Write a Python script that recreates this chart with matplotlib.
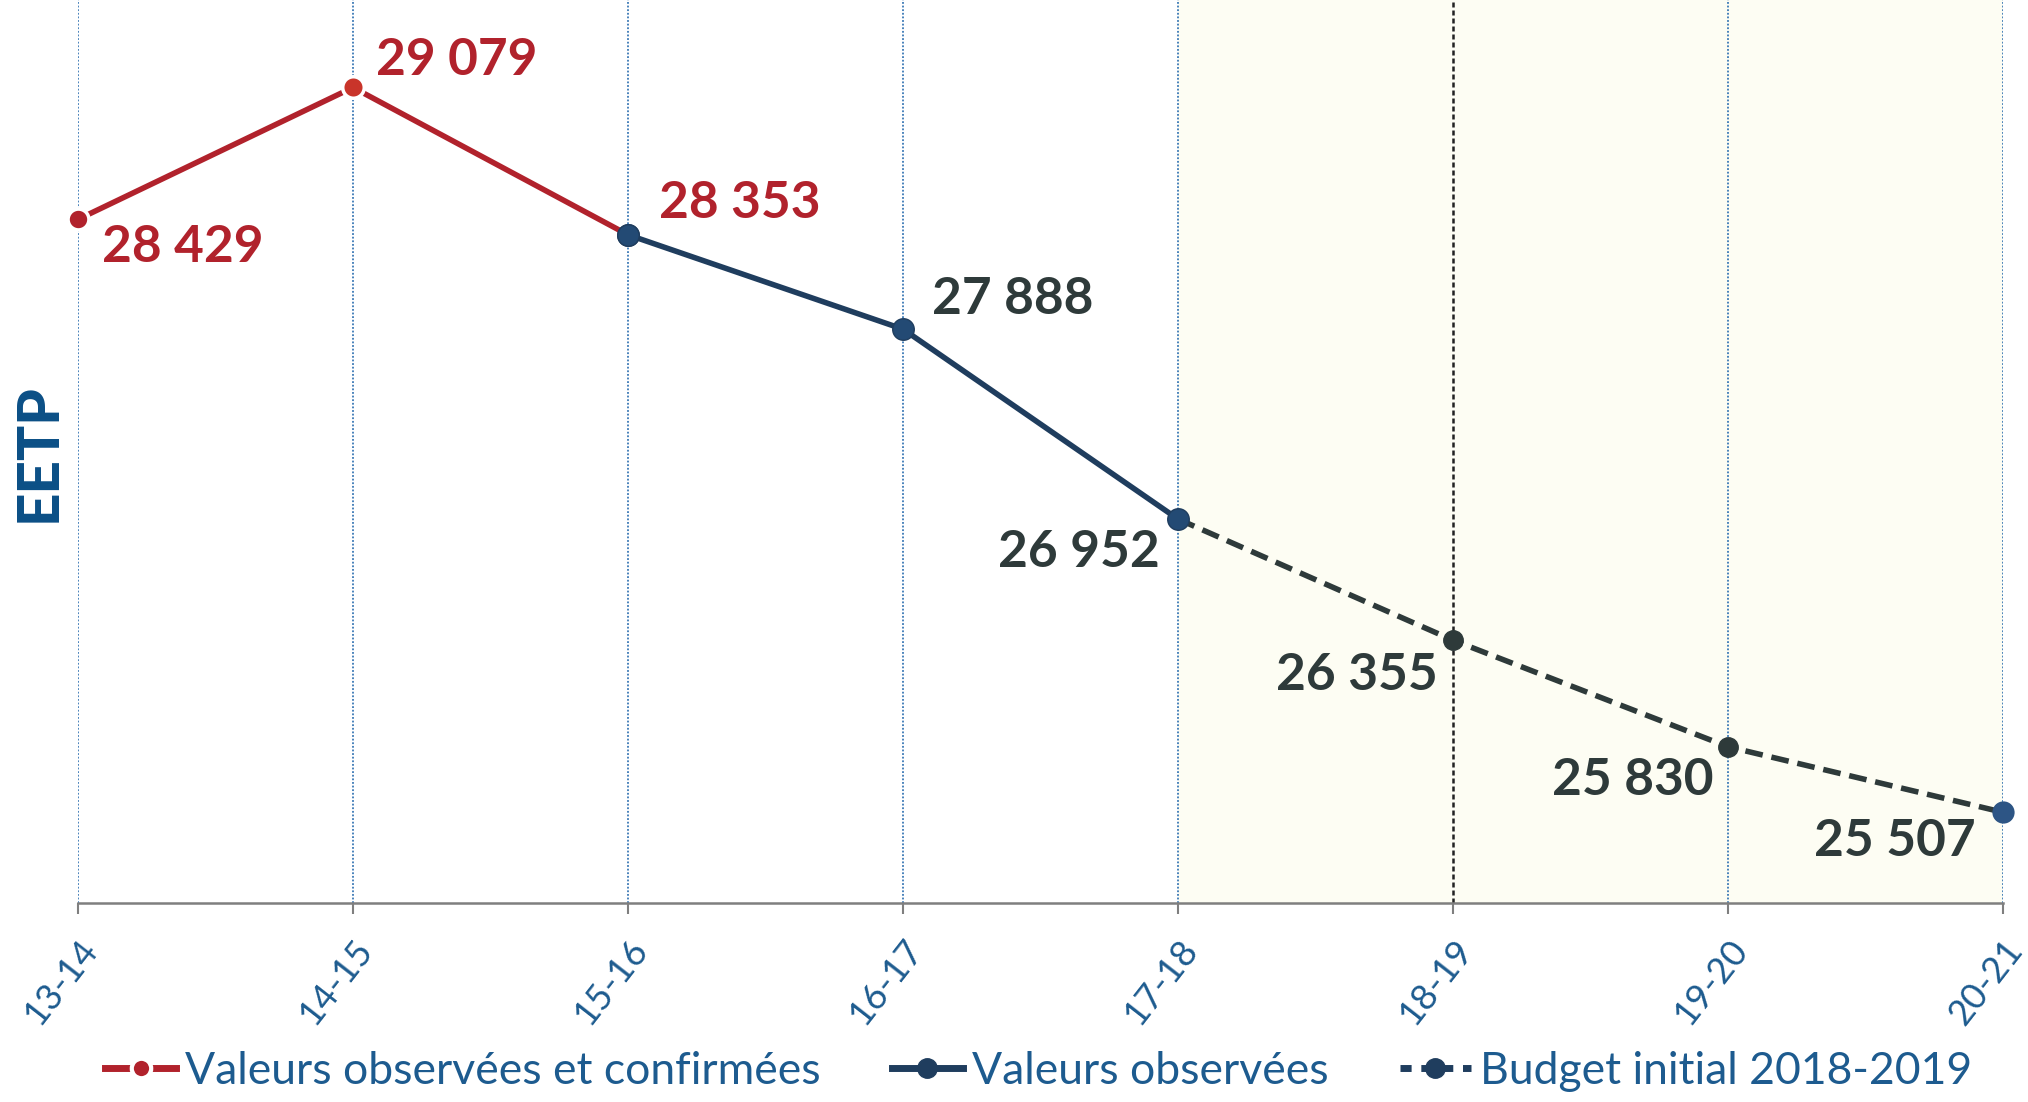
import matplotlib
matplotlib.use('Agg')
import matplotlib.pyplot as plt
from matplotlib.lines import Line2D

# data
years = ['13-14', '14-15', '15-16', '16-17', '17-18', '18-19', '19-20', '20-21']
confirmed_idx = [0, 1, 2]
confirmed_vals = [28429, 29079, 28353]
observed_idx = [2, 3, 4]
observed_vals = [28353, 27888, 26952]
budget_idx = [4, 5, 6, 7]
budget_vals = [26952, 26355, 25830, 25507]
legend_labels = ['Valeurs observées et confirmées', 'Valeurs observées', 'Budget initial 2018-2019']

RED = '#b1222c'
NAVY = '#1f3d5e'
DARK = '#2e3a3a'
BLUE_TXT = '#1d5b8f'

plt.rcParams['font.family'] = ['Lato', 'DejaVu Sans']

fig = plt.figure(figsize=(20.28, 11.02), dpi=100)
ax = fig.add_axes([78/2028, 199/1102, 1925/2028, 903/1102])
ax.set_xlim(0, 7)
ax.set_ylim(25060, 29510)

# faint yellow tint on the forecast part
ax.axvspan(4, 7, color='#fdfdf3', zorder=0, lw=0)

# vertical grid lines
for i in range(len(years)):
    if years[i] == '18-19':
        ax.axvline(i, color='#222222', lw=1.8, ls=(0, (2, 1.2)), zorder=1)
    else:
        ax.axvline(i, color='#3a78b5', lw=1.3, ls=(0, (1, 1)), zorder=1)

# series
ax.plot(budget_idx, budget_vals, color=DARK, lw=4, dashes=(3.2, 1.6),
        marker='o', ms=14, mfc=DARK, mec=DARK, zorder=3, clip_on=False)
ax.plot(budget_idx[-1], budget_vals[-1], 'o', ms=15, color='#2d5585', zorder=5, clip_on=False)
ax.plot(observed_idx, observed_vals, color=NAVY, lw=4, marker='o', ms=15.5,
        mfc='#234a74', mec=NAVY, zorder=4, clip_on=False)
ax.plot(confirmed_idx[:2], confirmed_vals[:2], color=RED, lw=4, marker='o', ms=15,
        mfc=RED, mec='white', mew=2.5, zorder=3, clip_on=False)
ax.plot(confirmed_idx[1:], confirmed_vals[1:], color=RED, lw=4, zorder=3, clip_on=False)
ax.plot(confirmed_idx[1], confirmed_vals[1], 'o', ms=15.5, mfc='#c9342a', mec='white',
        mew=2.5, zorder=4, clip_on=False)
ax.plot(observed_idx[0], observed_vals[0], 'o', ms=15.5, mfc='#234a74', mec=NAVY, zorder=5)

# value labels
def fmt(v):
    return f'{v:,}'.replace(',', ' ')

red_offsets = [(24, -28, 'left'), (23, 27, 'left'), (31, 31, 'left')]
for (i, v, off) in zip(confirmed_idx, confirmed_vals, red_offsets):
    ax.annotate(fmt(v), (i, v), xytext=off[:2], textcoords='offset pixels',
                ha=off[2], va='center', fontsize=37, fontweight='bold', color=RED, zorder=6)

dark_points = [(3, 27888, (29, 30, 'left')), (4, 26952, (-18, -33, 'right')),
               (5, 26355, (-15, -35, 'right')), (6, 25830, (-14, -34, 'right')),
               (7, 25507, (-27, -29, 'right'))]
for (i, v, off) in dark_points:
    ax.annotate(fmt(v), (i, v), xytext=off[:2], textcoords='offset pixels',
                ha=off[2], va='center', fontsize=37, fontweight='bold', color=DARK, zorder=6)

# axes styling
for s in ['left', 'right', 'top']:
    ax.spines[s].set_visible(False)
ax.spines['bottom'].set_color('#7f7f7f')
ax.spines['bottom'].set_linewidth(1.8)
ax.set_yticks([])
ax.set_xticks(range(len(years)))
ax.set_xticklabels(years, rotation=52, ha='right', va='top', rotation_mode='anchor',
                   fontsize=26, color=BLUE_TXT)
ax.tick_params(axis='x', length=8, width=1.5, color='#7f7f7f', pad=14)

fig.text(39/2028, 1 - 453/1102, 'EETP', rotation=90, ha='center', va='center',
         fontsize=42, fontweight='black', color='#0b4f86')

handles = [
    Line2D([], [], color=RED, lw=5, marker='o', ms=14, mfc=RED, mec='white', mew=3),
    Line2D([], [], color=NAVY, lw=5, marker='o', ms=14, mfc=NAVY, mec=NAVY),
    Line2D([], [], color=NAVY, lw=5, dashes=(1.6, 1.4), marker='o', ms=14, mfc=NAVY, mec=NAVY),
]
leg = fig.legend(handles, legend_labels, loc='center', bbox_to_anchor=(0.512, 0.028),
                 ncol=3, frameon=False, fontsize=32, handlelength=1.6,
                 handletextpad=0.2, columnspacing=1.6, borderaxespad=0)
for t in leg.get_texts():
    t.set_color(BLUE_TXT)

fig.savefig('out.png', dpi=100)
